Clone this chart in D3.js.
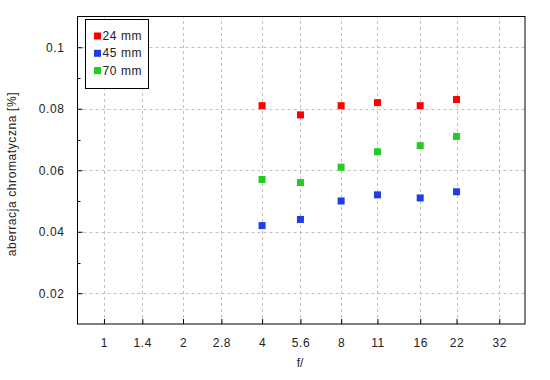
<!DOCTYPE html>
<html>
<head>
    <meta charset="utf-8">
    <title>Aberracja chromatyczna</title>
    <script src="https://d3js.org/d3.v7.min.js"></script>
    <style>
        body { margin: 0; background: #fff; }
        text {
            font-family: "Liberation Sans", Arial, sans-serif;
            font-size: 12px;
            fill: #222;
        }
        .grid { stroke: #c0c0c0; stroke-width: 1; stroke-dasharray: 3,3; }
    </style>
</head>
<body>
    <div id="chart"></div>
    <script>
        // data
        const apertures = [4, 5.6, 8, 11, 16, 22];
        const series_names = ["24 mm", "45 mm", "70 mm"];
        const series_colors = ["#ff0000", "#1c3ee6", "#22cc22"];
        const ca_24 = [0.081, 0.078, 0.081, 0.082, 0.081, 0.083];
        const ca_45 = [0.042, 0.044, 0.050, 0.052, 0.051, 0.053];
        const ca_70 = [0.057, 0.056, 0.061, 0.066, 0.068, 0.071];
        const x_ticks = [1, 1.4, 2, 2.8, 4, 5.6, 8, 11, 16, 22, 32];
        const y_ticks = [0.02, 0.04, 0.06, 0.08, 0.1];
        const y_minor = [0.03, 0.05, 0.07, 0.09];

        const width = 550;
        const height = 380;
        const margin = { left: 77.5, right: 25, top: 16.5, bottom: 56 };

        const svg = d3.select("#chart")
            .append("svg")
            .attr("width", width)
            .attr("height", height);

        const x = d3.scaleLog()
            .domain([0.793, 40.1])
            .range([margin.left, width - margin.right]);

        const y = d3.scaleLinear()
            .domain([0.01, 0.11])
            .range([height - margin.bottom, margin.top]);

        // grid
        svg.selectAll(".gx")
            .data(x_ticks)
            .enter()
            .append("line")
            .attr("class", "grid")
            .attr("x1", d => Math.round(x(d)) + 0.5)
            .attr("x2", d => Math.round(x(d)) + 0.5)
            .attr("y1", y.range()[0])
            .attr("y2", y.range()[1]);

        svg.selectAll(".gy")
            .data(y_ticks)
            .enter()
            .append("line")
            .attr("class", "grid")
            .attr("x1", x.range()[0])
            .attr("x2", x.range()[1])
            .attr("y1", d => Math.round(y(d)) + 0.5)
            .attr("y2", d => Math.round(y(d)) + 0.5);

        // axes: ticks drawn inward
        const x_axis = d3.axisBottom(x)
            .tickValues(x_ticks)
            .tickFormat(d => d)
            .tickSize(-5)
            .tickPadding(14);

        const gx = svg.append("g")
            .attr("transform", `translate(0,${height - margin.bottom})`)
            .call(x_axis);
        gx.select(".domain").remove();
        gx.selectAll("line").attr("stroke", "#000");
        gx.selectAll("text").attr("font-size", 12).attr("fill", "#222").style("letter-spacing", "0.6px");

        const y_axis = d3.axisLeft(y)
            .tickValues(y_ticks)
            .tickFormat(d => d)
            .tickSize(-5)
            .tickPadding(13);

        const gy = svg.append("g")
            .attr("transform", `translate(${margin.left},0)`)
            .call(y_axis);
        gy.select(".domain").remove();
        gy.selectAll("line").attr("stroke", "#000");
        gy.selectAll("text").attr("font-size", 12).attr("fill", "#222").style("letter-spacing", "0.6px");

        svg.selectAll(".minor")
            .data(y_minor)
            .enter()
            .append("line")
            .attr("x1", margin.left)
            .attr("x2", margin.left + 3)
            .attr("y1", d => Math.round(y(d)) + 0.5)
            .attr("y2", d => Math.round(y(d)) + 0.5)
            .attr("stroke", "#000");

        // frame
        svg.append("rect")
            .attr("x", margin.left)
            .attr("y", margin.top)
            .attr("width", width - margin.left - margin.right)
            .attr("height", height - margin.top - margin.bottom)
            .attr("fill", "none")
            .attr("stroke", "#000")
            .attr("stroke-width", 1);

        // points
        const all_series = [ca_24, ca_45, ca_70];
        const s = 7;
        all_series.forEach((vals, i) => {
            svg.selectAll(".p" + i)
                .data(vals)
                .enter()
                .append("rect")
                .attr("x", (d, j) => x(apertures[j]) - s / 2)
                .attr("y", d => y(d) - s / 2)
                .attr("width", s)
                .attr("height", s)
                .attr("fill", series_colors[i]);
        });

        // legend
        const lg = svg.append("g");
        lg.append("rect")
            .attr("x", 85.5)
            .attr("y", 19.5)
            .attr("width", 63)
            .attr("height", 69)
            .attr("fill", "#fff")
            .attr("stroke", "#000");

        series_names.forEach((name, i) => {
            const cy = 36 + i * 17.3;
            lg.append("rect")
                .attr("x", 94)
                .attr("y", cy - 3.5)
                .attr("width", 7)
                .attr("height", 7)
                .attr("fill", series_colors[i]);
            lg.append("text")
                .attr("x", 102.5)
                .attr("y", cy)
                .attr("dominant-baseline", "central")
                .style("letter-spacing", "0.6px")
                .text(name);
        });

        // axis labels
        svg.append("text")
            .attr("text-anchor", "middle")
            .attr("x", 300)
            .attr("y", 367)
            .text("f/");

        svg.append("text")
            .attr("text-anchor", "middle")
            .attr("transform", "translate(16,174) rotate(-90)")
            .style("letter-spacing", "0.6px")
            .text("aberracja chromatyczna [%]");
    </script>
</body>
</html>
